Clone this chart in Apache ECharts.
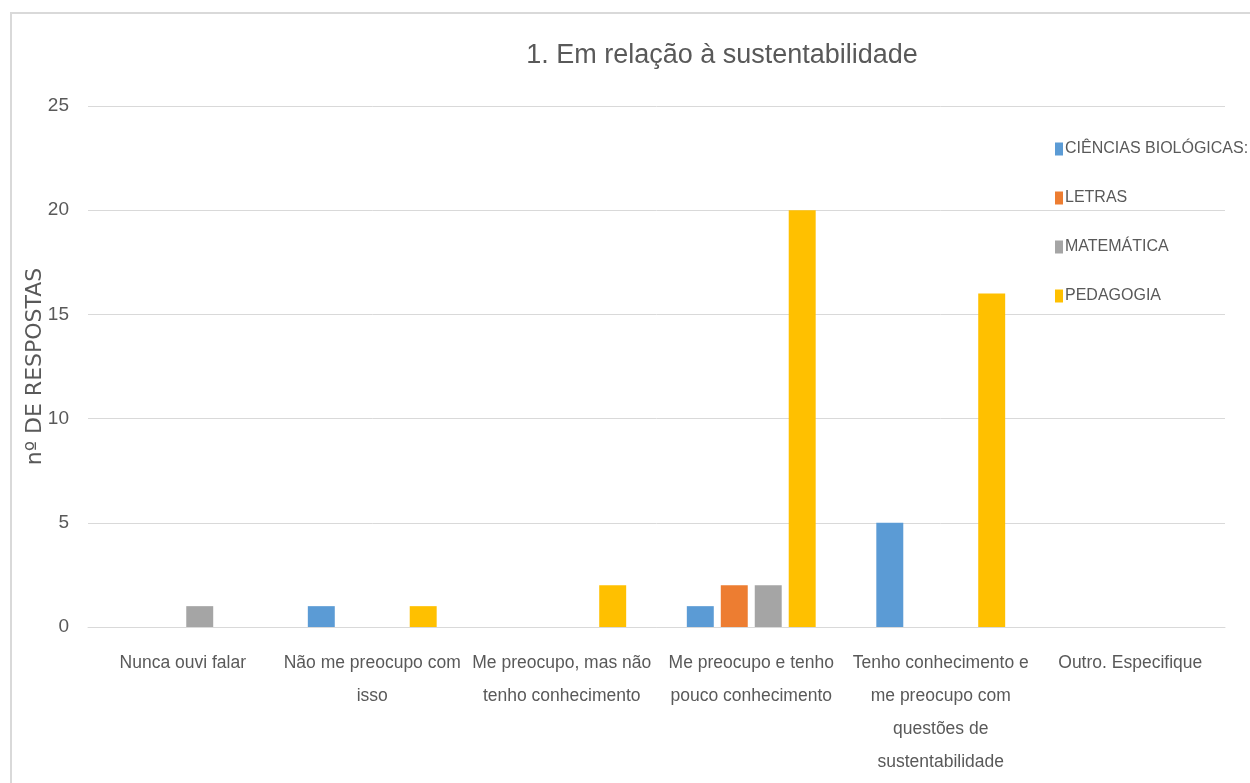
<!DOCTYPE html>
<html><head><meta charset="utf-8">
<script src="https://cdn.jsdelivr.net/npm/echarts@6/dist/echarts.min.js"></script>
<style>
html,body{margin:0;padding:0;background:#fff;}
#frame{position:absolute;left:10px;top:12px;width:1300px;height:800px;border-top:2px solid #d9d9d9;border-left:2px solid #d9d9d9;}
#c{position:absolute;left:0;top:0;width:1250px;height:783px;}
</style></head>
<body>
<div id="frame"></div>
<div id="c"></div>
<script>
const title = '1. Em relação à sustentabilidade';
const yAxisName = 'nº DE RESPOSTAS';
const categories = [
  'Nunca ouvi falar',
  'Não me preocupo com\nisso',
  'Me preocupo, mas não\ntenho conhecimento',
  'Me preocupo e tenho\npouco conhecimento',
  'Tenho conhecimento e\nme preocupo com\nquestões de\nsustentabilidade',
  'Outro. Especifique'
];
const seriesNames = ['CIÊNCIAS BIOLÓGICAS:', 'LETRAS', 'MATEMÁTICA', 'PEDAGOGIA'];
const bio = [0, 1, 0, 1, 5, 0];
const letras = [0, 0, 0, 2, 0, 0];
const matematica = [1, 0, 0, 2, 0, 0];
const pedagogia = [0, 1, 2, 20, 16, 0];
const colors = ['#5B9BD5', '#ED7D31', '#A5A5A5', '#FFC000'];

const font = "'Liberation Sans', Arial, sans-serif";
const chart = echarts.init(document.getElementById('c'));
const values = [bio, letras, matematica, pedagogia];
chart.setOption({
  animation: false,
  color: colors,
  title: {
    text: title, left: 717, top: 37, textAlign: 'center',
    textStyle: {fontFamily: font, fontSize: 27, fontWeight: 'normal', color: '#595959'}
  },
  legend: {
    orient: 'vertical', left: 1050, top: 136, itemGap: 33, itemWidth: 8, itemHeight: 13,
    icon: 'rect',
    textStyle: {fontFamily: font, fontSize: 16, color: '#595959', padding: [0,0,0,-3]},
    data: seriesNames
  },
  grid: {left: 88, right: 25, top: 106, bottom: 156, containLabel: false},
  xAxis: {
    type: 'category', data: categories,
    axisLine: {lineStyle: {color: '#d9d9d9'}},
    axisTick: {show: false},
    axisLabel: {interval: 0, fontFamily: font, fontSize: 17.5, color: '#595959', lineHeight: 33, margin: 20}
  },
  yAxis: {
    type: 'value', min: 0, max: 25, interval: 5,
    name: yAxisName, nameLocation: 'middle', nameGap: 42, nameMoveOverlap: false,
    nameTextStyle: {fontFamily: "'DejaVu Sans', sans-serif", fontSize: 22, color: '#595959'},
    axisLine: {show: false}, axisTick: {show: false},
    splitLine: {lineStyle: {color: '#d9d9d9'}},
    axisLabel: {fontFamily: font, fontSize: 19, color: '#595959', margin: 19}
  },
  series: seriesNames.map((n, i) => ({
    name: n, type: 'bar', data: values[i].map(v => v === 0 ? '-' : v),
    barGap: '26%', barCategoryGap: '32%'
  }))
});
</script>
</body></html>
